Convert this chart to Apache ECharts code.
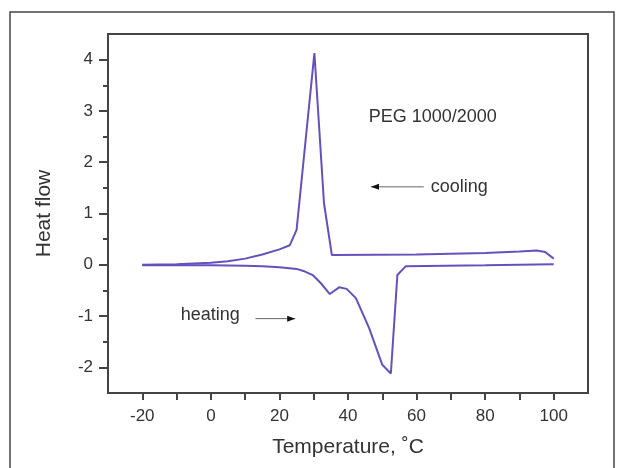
<!DOCTYPE html>
<html>
<head>
<meta charset="utf-8">
<script src="https://cdn.jsdelivr.net/npm/echarts@6/dist/echarts.min.js"></script>
<style>
html,body{margin:0;padding:0;background:#fff;}
#c{width:627px;height:468px;}
</style>
</head>
<body>
<div id="c"></div>
<script>
// Data (Temperature °C, Heat flow)
const coolingTemp = [-20, -10, 0, 5, 10, 15, 20, 23, 25, 30.2, 33, 35.3, 60, 80, 90, 95, 97.5, 100];
const coolingFlow = [0, 0.01, 0.04, 0.07, 0.12, 0.2, 0.3, 0.38, 0.68, 4.13, 1.2, 0.19, 0.2, 0.23, 0.26, 0.28, 0.25, 0.12];
const heatingTemp = [-20, 0, 10, 15, 20, 25, 27, 29.7, 32.1, 34.7, 37.4, 39.6, 42.3, 46.2, 50, 52.5, 54.4, 56.8, 80, 100];
const heatingFlow = [-0.01, -0.01, -0.02, -0.03, -0.05, -0.08, -0.12, -0.2, -0.36, -0.57, -0.44, -0.47, -0.65, -1.24, -1.95, -2.12, -0.2, -0.03, -0.01, 0.01];
const xTickValues = [-20, -10, 0, 10, 20, 30, 40, 50, 60, 70, 80, 90, 100];
const xLabelValues = [-20, 0, 20, 40, 60, 80, 100];
const yLabelValues = [-2, -1, 0, 1, 2, 3, 4];
const yMinorValues = [-1.5, -0.5, 0.5, 1.5, 2.5, 3.5];
const title = 'PEG 1000/2000';

const chart = echarts.init(document.getElementById('c'));
const axisColor = '#444';
const textColor = '#333';
const lineColor = '#6650bb';
const font = 'Liberation Sans, Arial, sans-serif';

chart.setOption({
  animation: false,
  backgroundColor: '#fff',
  grid: { left: 108, right: 39, top: 34, bottom: 75, show: true, borderColor: axisColor, borderWidth: 2 },
  xAxis: {
    type: 'value', min: -30, max: 110,
    name: 'Temperature, ˚C', nameLocation: 'middle', nameGap: 44,
    nameTextStyle: { fontSize: 21, color: textColor, fontFamily: font },
    axisLine: { show: true, onZero: false, lineStyle: { color: axisColor, width: 2 } },
    axisTick: { show: true, length: 7, customValues: xTickValues, lineStyle: { color: axisColor, width: 2 } },
    axisLabel: { customValues: xLabelValues, fontSize: 17, color: textColor, fontFamily: font, margin: 15 },
    splitLine: { show: false }
  },
  yAxis: [{
    type: 'value', min: -2.5, max: 4.5,
    name: 'Heat flow', nameLocation: 'middle', nameGap: 53,
    nameTextStyle: { fontSize: 21, color: textColor, fontFamily: font },
    axisLine: { show: true, onZero: false, lineStyle: { color: axisColor, width: 2 } },
    axisTick: { show: true, length: 9, customValues: yLabelValues, lineStyle: { color: axisColor, width: 2 } },
    axisLabel: { customValues: yLabelValues, fontSize: 17, color: textColor, fontFamily: font, margin: 15 },
    splitLine: { show: false }
  }, {
    type: 'value', min: -2.5, max: 4.5, position: 'left',
    axisLine: { show: false, onZero: false },
    axisTick: { show: true, length: 5, customValues: yMinorValues, lineStyle: { color: axisColor, width: 2 } },
    axisLabel: { show: false },
    splitLine: { show: false }
  }],
  series: [{
    name: 'cooling', type: 'line', symbol: 'none', smooth: false,
    lineStyle: { color: lineColor, width: 2 },
    data: coolingTemp.map((t, i) => [t, coolingFlow[i]])
  }, {
    name: 'heating', type: 'line', symbol: 'none', smooth: false,
    lineStyle: { color: lineColor, width: 2 },
    data: heatingTemp.map((t, i) => [t, heatingFlow[i]])
  }]
});

// Annotations placed in data coordinates
const p = (x, y) => chart.convertToPixel({ gridIndex: 0 }, [x, y]);
const pegPos = p(64.7, 2.88);
const coolTxt = p(64.1, 1.52);
const coolA1 = p(62.1, 1.52), coolA2 = p(46.7, 1.52);
const heatTxt = p(-8.8, -0.97);
const heatA1 = p(13, -1.05), heatA2 = p(24.6, -1.05);

function arrow(from, to) {
  const dir = Math.sign(to[0] - from[0]);
  return [
    { type: 'line', shape: { x1: from[0], y1: from[1], x2: to[0], y2: to[1] }, style: { stroke: '#666', lineWidth: 1 } },
    { type: 'polygon', shape: { points: [[to[0], to[1]], [to[0] - dir * 8, to[1] - 3], [to[0] - dir * 8, to[1] + 3]] }, style: { fill: '#111' } }
  ];
}

chart.setOption({
  graphic: [
    { type: 'polyline', shape: { points: [[10, 468], [10, 12], [614, 12], [614, 468]] }, style: { stroke: '#444', lineWidth: 1.5, fill: null } },
    { type: 'text', x: pegPos[0], y: pegPos[1], style: { text: title, fill: textColor, font: '18px ' + font, textAlign: 'center', textVerticalAlign: 'middle' } },
    { type: 'text', x: coolTxt[0], y: coolTxt[1], style: { text: 'cooling', fill: textColor, font: '18px ' + font, textAlign: 'left', textVerticalAlign: 'middle' } },
    { type: 'text', x: heatTxt[0], y: heatTxt[1], style: { text: 'heating', fill: textColor, font: '18px ' + font, textAlign: 'left', textVerticalAlign: 'middle' } }
  ].concat(arrow(coolA1, coolA2)).concat(arrow(heatA1, heatA2))
});
</script>
</body>
</html>
